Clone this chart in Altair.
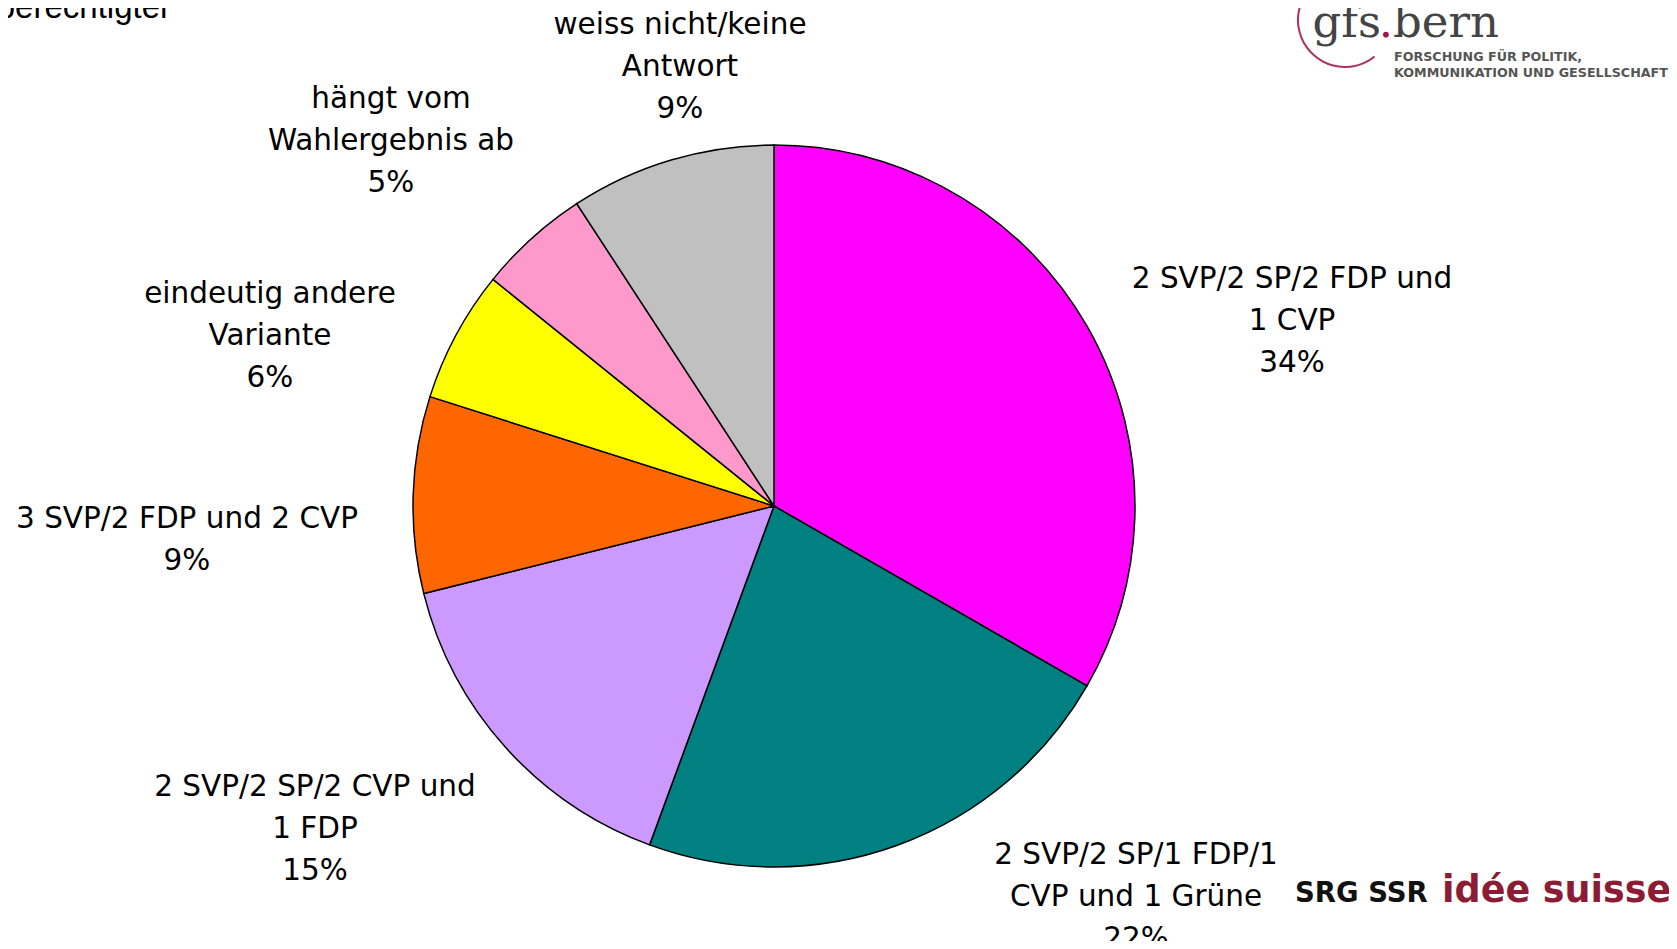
import altair as alt
import pandas as pd

# ---- data ----
categories = [
    "2 SVP/2 SP/2 FDP und 1 CVP",
    "2 SVP/2 SP/1 FDP/1 CVP und 1 Grüne",
    "2 SVP/2 SP/2 CVP und 1 FDP",
    "3 SVP/2 FDP und 2 CVP",
    "eindeutig andere Variante",
    "hängt vom Wahlergebnis ab",
    "weiss nicht/keine Antwort",
]
shares = [33.3, 22.3, 15.5, 8.8, 5.9, 5.0, 9.2]
label_texts = [
    "2 SVP/2 SP/2 FDP und\n1 CVP\n34%",
    "2 SVP/2 SP/1 FDP/1\nCVP und 1 Grüne\n22%",
    "2 SVP/2 SP/2 CVP und\n1 FDP\n15%",
    "3 SVP/2 FDP und 2 CVP\n9%",
    "eindeutig andere\nVariante\n6%",
    "hängt vom\nWahlergebnis ab\n5%",
    "weiss nicht/keine\nAntwort\n9%",
]
colors = ["#FF00FF", "#008080", "#CC99FF", "#FF6600", "#FFFF00", "#FF99CC", "#C0C0C0"]

# ---- layout (pixel positions inside the chart) ----
W, H = 1661, 933
CX, CY, R = 766, 498, 361
label_x = [1284, 1128, 307, 179, 262, 383, 672]
label_y = [271, 847, 779, 511, 286, 91, 17]   # first line of each label

pie_df = pd.DataFrame({"cat": categories, "share": shares, "idx": list(range(len(categories)))})
lab_df = pd.DataFrame({"label": label_texts, "lx": label_x, "ly": label_y})

pie = alt.Chart(pie_df).mark_arc(stroke="black", strokeWidth=1.5).encode(
    theta=alt.Theta("share:Q", stack=True),
    order=alt.Order("idx:Q"),
    color=alt.Color("cat:N", scale=alt.Scale(domain=categories, range=colors), legend=None),
    x=alt.value(CX),
    y=alt.value(CY),
    radius=alt.value(R),
)

labels = alt.Chart(lab_df).mark_text(
    font="DejaVu Sans", fontSize=29.5, color="black", align="center",
    baseline="middle", lineBreak="\n", lineHeight=42,
).encode(
    x=alt.X("lx:Q", scale=None),
    y=alt.Y("ly:Q", scale=None),
    text="label:N",
)

# ---- decorations (title fragment and logos) ----
deco_df = pd.DataFrame({
    "t": ["berechtigter", "gfs", ".", "bern",
          "FORSCHUNG FÜR POLITIK,", "KOMMUNIKATION UND GESELLSCHAFT",
          "SRG SSR", "idée suisse"],
    "x": [163, 1373, 1378, 1385, 1386, 1386, 1287, 1434],
    "y": [10, 29, 29, 29, 53, 69, 894, 894],
    "font": ["Liberation Sans", "DejaVu Serif", "DejaVu Serif", "DejaVu Serif",
             "DejaVu Sans", "DejaVu Sans", "DejaVu Sans", "DejaVu Sans"],
    "size": [33, 45, 45, 45, 12.7, 12.7, 27.5, 36.5],
    "weight": ["normal", "normal", "normal", "normal", "bold", "bold", "bold", "bold"],
    "col": ["#000000", "#444444", "#A0134A", "#444444", "#555555", "#555555", "#111111", "#8B1C34"],
    "al": ["right", "right", "center", "left", "left", "left", "left", "left"],
})

deco_layers = []
for _, r in deco_df.iterrows():
    deco_layers.append(
        alt.Chart(pd.DataFrame([r])).mark_text(
            font=r["font"], fontSize=float(r["size"]), fontWeight=r["weight"],
            color=r["col"], align=r["al"], baseline="alphabetic",
        ).encode(
            x=alt.X("x:Q", scale=None),
            y=alt.Y("y:Q", scale=None),
            text="t:N",
        )
    )

logo_arc = alt.Chart(pd.DataFrame({"a": [1]})).mark_arc(
    color="#B0305C", theta=2.46, theta2=6.2, radius=48, radius2=46,
).encode(x=alt.value(1337), y=alt.value(12))

chart = alt.layer(pie, labels, logo_arc, *deco_layers).properties(
    width=W, height=H, padding=0, autosize=alt.AutoSizeParams(type="none"),
).configure_view(strokeWidth=0)

chart.save("out.html", embed_options={"renderer": "svg", "actions": False})
